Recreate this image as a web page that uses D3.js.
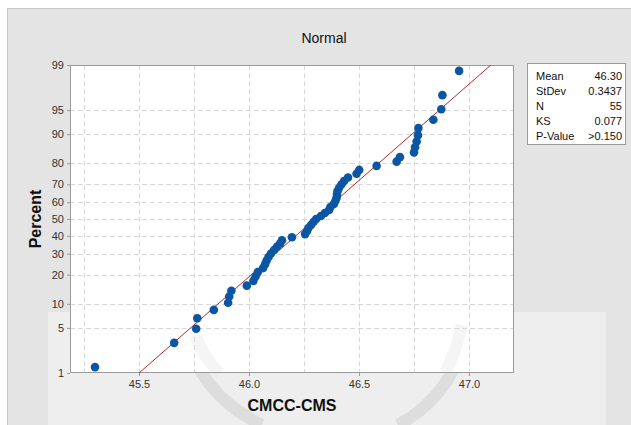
<!DOCTYPE html>
<html>
<head>
<meta charset="utf-8">
<script src="https://cdn.jsdelivr.net/npm/d3@7"></script>
<style>
  body { margin: 0; background: #fff; }
  svg text { font-family: "Liberation Sans", Arial, sans-serif; }
</style>
</head>
<body>
<svg id="chart" width="631" height="425"></svg>
<script>
// Sorted CMCC-CMS observations
const values = [
  45.30, 45.66, 45.76, 45.765, 45.84, 45.905, 45.91, 45.92, 45.99, 46.02,
  46.03, 46.04, 46.064, 46.073, 46.08, 46.089, 46.10, 46.114, 46.127, 46.141,
  46.15, 46.195, 46.255, 46.264, 46.27, 46.282, 46.293, 46.305, 46.327, 46.345,
  46.364, 46.37, 46.386, 46.393, 46.398, 46.40, 46.402, 46.409, 46.42, 46.432,
  46.45, 46.489, 46.501, 46.58, 46.671, 46.686, 46.75, 46.755, 46.762, 46.768,
  46.77, 46.838, 46.874, 46.879, 46.955
];
const xTicks = [45.5, 46.0, 46.5, 47.0];
const xGrid = [45.25, 45.5, 45.75, 46.0, 46.25, 46.5, 46.75, 47.0];
const yTicks = [1, 5, 10, 20, 30, 40, 50, 60, 70, 80, 90, 95, 99];
const statLabels = ["Mean", "StDev", "N", "KS", "P-Value"];
const statValues = ["46.30", "0.3437", "55", "0.077", ">0.150"];
const fitMean = 46.30;
const fitSd = 0.3437;

// Inverse standard normal CDF (Acklam's rational approximation)
function probit(p) {
  const a = [-3.969683028665376e+01, 2.209460984245205e+02, -2.759285104469687e+02,
             1.383577518672690e+02, -3.066479806614716e+01, 2.506628277459239e+00];
  const b = [-5.447609879822406e+01, 1.615858368580409e+02, -1.556989798598866e+02,
             6.680131188771972e+01, -1.328068155288572e+01];
  const c = [-7.784894002430293e-03, -3.223964580411365e-01, -2.400758277161838e+00,
             -2.549671010249464e+00, 4.374664141464968e+00, 2.938163982698783e+00];
  const d = [7.784695709041462e-03, 3.224671290700398e-01, 2.445134137142996e+00,
             3.754408661907416e+00];
  const pl = 0.02425;
  let q, r;
  if (p < pl) {
    q = Math.sqrt(-2 * Math.log(p));
    return (((((c[0]*q+c[1])*q+c[2])*q+c[3])*q+c[4])*q+c[5]) / ((((d[0]*q+d[1])*q+d[2])*q+d[3])*q+1);
  } else if (p <= 1 - pl) {
    q = p - 0.5; r = q * q;
    return (((((a[0]*r+a[1])*r+a[2])*r+a[3])*r+a[4])*r+a[5])*q / (((((b[0]*r+b[1])*r+b[2])*r+b[3])*r+b[4])*r+1);
  } else {
    q = Math.sqrt(-2 * Math.log(1 - p));
    return -(((((c[0]*q+c[1])*q+c[2])*q+c[3])*q+c[4])*q+c[5]) / ((((d[0]*q+d[1])*q+d[2])*q+d[3])*q+1);
  }
}

const svg = d3.select("#chart");
const W = 631, H = 425;
const plot = { left: 70, right: 514, top: 65, bottom: 373 };

// Background panel
svg.append("rect").attr("x", 0).attr("y", 0).attr("width", W).attr("height", H).attr("fill", "#ffffff");
svg.append("rect").attr("x", 7.5).attr("y", 8.5).attr("width", W).attr("height", H)
  .attr("fill", "#e4e4e4").attr("stroke", "#c8c8c8");
// faint watermark band
svg.append("rect").attr("x", 48).attr("y", 312).attr("width", 558).attr("height", 113)
  .attr("fill", "#eeeeee");
const wm = svg.append("g").attr("fill", "none").attr("stroke", "#c4c4c4").attr("stroke-width", 12).attr("opacity", 0.4);
wm.append("path").attr("d", "M 185 332 Q 200 395 262 425");
wm.append("path").attr("d", "M 470 322 Q 455 395 398 425");
wm.append("path").attr("d", "M 262 362 Q 330 335 395 362");

const x = d3.scaleLinear().domain([45.0 + (plot.left - 29) / 220, 45.0 + (plot.right - 29) / 220])
  .range([plot.left, plot.right]);
const zMax = probit(0.99);
const y = d3.scaleLinear().domain([-zMax, zMax]).range([plot.bottom, plot.top]);

// Plot area
svg.append("rect").attr("x", plot.left).attr("y", plot.top)
  .attr("width", plot.right - plot.left).attr("height", plot.bottom - plot.top)
  .attr("fill", "#ffffff");
const wm2 = svg.append("g").attr("fill", "none").attr("stroke", "#e2e2e2").attr("stroke-width", 12).attr("opacity", 0.35);
wm2.append("path").attr("d", "M 195 335 Q 205 360 220 373");
wm2.append("path").attr("d", "M 462 325 Q 456 352 445 373");

// Grid
const grid = svg.append("g").attr("stroke", "#d9d9d9").attr("stroke-width", 1).attr("stroke-dasharray", "5,3");
grid.selectAll("line.v").data(xGrid).join("line").attr("class", "v")
  .attr("x1", d => Math.round(x(d)) + 0.5).attr("x2", d => Math.round(x(d)) + 0.5)
  .attr("y1", plot.top).attr("y2", plot.bottom);
grid.selectAll("line.h").data(yTicks.filter(t => t > 1 && t < 99)).join("line").attr("class", "h")
  .attr("y1", d => Math.round(y(probit(d / 100))) + 0.5).attr("y2", d => Math.round(y(probit(d / 100))) + 0.5)
  .attr("x1", plot.left).attr("x2", plot.right);

// Axes
const xAxis = d3.axisBottom(x).tickValues(xTicks).tickFormat(d3.format(".1f")).tickSize(3).tickPadding(4);
const gx = svg.append("g").attr("transform", `translate(0,${plot.bottom})`).call(xAxis);
const yAxis = d3.axisLeft(y).tickValues(yTicks.map(t => probit(t / 100)))
  .tickFormat((d, i) => yTicks[i]).tickSize(3).tickPadding(3);
const gy = svg.append("g").attr("transform", `translate(${plot.left},0)`).call(yAxis);
[gx, gy].forEach(g => {
  g.select(".domain").remove();
  g.selectAll(".tick line").attr("stroke", "#9a9a9a");
  g.selectAll(".tick text").attr("fill", "#333").attr("font-size", 11)
    .style("font-family", '"Liberation Sans", Arial, sans-serif');
});

// Plot frame
svg.append("rect").attr("x", plot.left + 0.5).attr("y", plot.top + 0.5)
  .attr("width", plot.right - plot.left - 1).attr("height", plot.bottom - plot.top - 1)
  .attr("fill", "none").attr("stroke", "#9a9a9a");

// Fitted normal line
svg.append("clipPath").attr("id", "pclip").append("rect")
  .attr("x", plot.left).attr("y", plot.top)
  .attr("width", plot.right - plot.left).attr("height", plot.bottom - plot.top);
svg.append("line").attr("clip-path", "url(#pclip)")
  .attr("x1", x(fitMean - fitSd * 3.5)).attr("y1", y(-3.5))
  .attr("x2", x(fitMean + fitSd * 3.5)).attr("y2", y(3.5))
  .attr("stroke", "#b02a2a").attr("stroke-width", 1);

// Points at median-rank plotting positions
const n = values.length;
svg.append("g").selectAll("circle").data(values).join("circle")
  .attr("cx", d => x(d))
  .attr("cy", (d, i) => y(probit((i + 1 - 0.3) / (n + 0.4))))
  .attr("r", 4.3)
  .attr("fill", "#0b56a4");

// Titles
svg.append("text").attr("x", 324).attr("y", 43).attr("text-anchor", "middle")
  .attr("font-size", 14).attr("fill", "#111").text("Normal");
svg.append("text").attr("x", 292).attr("y", 411).attr("text-anchor", "middle")
  .attr("font-size", 16).attr("font-weight", "bold").attr("fill", "#111").text("CMCC-CMS");
svg.append("text").attr("transform", "translate(41,219) rotate(-90)").attr("text-anchor", "middle")
  .attr("font-size", 16).attr("font-weight", "bold").attr("fill", "#111").text("Percent");

// Statistics box
svg.append("rect").attr("x", 527.5).attr("y", 63.5).attr("width", 98).attr("height", 81)
  .attr("fill", "#ffffff").attr("stroke", "#9a9a9a");
const sg = svg.append("g").attr("font-size", 11).attr("fill", "#111");
sg.selectAll("text.l").data(statLabels).join("text").attr("class", "l")
  .attr("x", 536).attr("y", (d, i) => 79.5 + i * 15).text(d => d);
sg.selectAll("text.v").data(statValues).join("text").attr("class", "v")
  .attr("x", 622).attr("y", (d, i) => 79.5 + i * 15).attr("text-anchor", "end").text(d => d);
</script>
</body>
</html>
